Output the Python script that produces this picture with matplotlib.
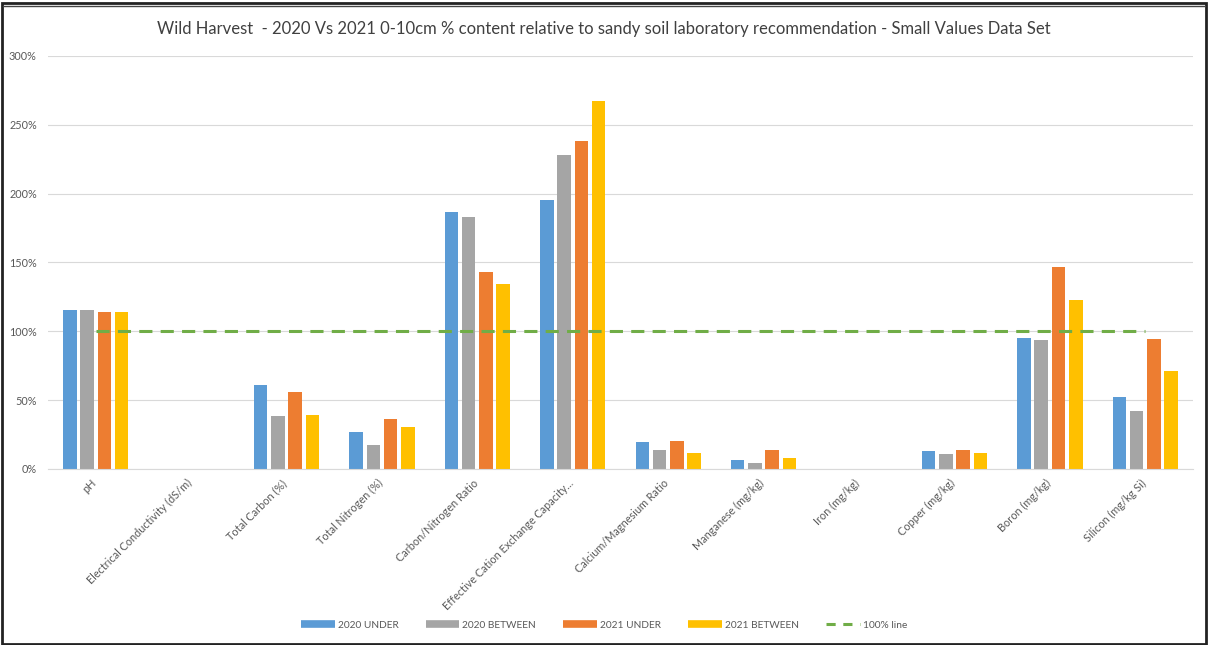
import numpy as np
import matplotlib
matplotlib.use("Agg")
import matplotlib.pyplot as plt
import matplotlib.transforms as mtransforms
from matplotlib.lines import Line2D
from matplotlib.ticker import FuncFormatter

plt.rcParams['font.family'] = ['Lato', 'DejaVu Sans']

categories = ["pH", "Electrical Conductivity (dS/m)", "Total Carbon (%)", "Total Nitrogen (%)",
              "Carbon/Nitrogen Ratio", "Effective Cation Exchange Capacity...",
              "Calcium/Magnesium Ratio", "Manganese (mg/kg)", "Iron (mg/kg)",
              "Copper (mg/kg)", "Boron (mg/kg)", "Silicon (mg/kg Si)"]

# percent of the laboratory recommendation
under_2020 = [115.3, 0, 61.2, 27.2, 186.4, 195.7, 19.4, 6.3, 0, 13.0, 95.0, 52.0]
between_2020 = [115.8, 0, 38.4, 17.3, 183.0, 228.0, 13.6, 4.1, 0, 10.9, 93.5, 42.0]
under_2021 = [114.1, 0, 56.1, 36.6, 143.0, 238.0, 20.1, 13.8, 0, 13.8, 146.5, 94.5]
between_2021 = [114.1, 0, 39.5, 30.6, 134.5, 267.0, 11.4, 8.0, 0, 11.4, 123.0, 71.0]
line_100 = [100] * len(categories)

series = [("2020 UNDER", under_2020, "#5B9BD5"),
          ("2020 BETWEEN", between_2020, "#A5A5A5"),
          ("2021 UNDER", under_2021, "#ED7D31"),
          ("2021 BETWEEN", between_2021, "#FFC000")]

fig = plt.figure(figsize=(12.08, 6.45), dpi=100)
ax = fig.add_axes([0.0397, 0.2729, 0.9479, 0.6403])

x = np.arange(len(categories))
pitch = 0.181
width = 0.142
for i, (name, vals, col) in enumerate(series):
    ax.bar(x + (i - 1.5) * pitch, vals, width, color=col, zorder=2)

ax.plot(x, line_100, color="#70AD47", lw=2.2, dashes=(4.3, 2.7), zorder=3)

ax.set_xlim(-0.5, len(categories) - 0.5)
ax.set_ylim(0, 300)
ax.set_yticks(np.arange(0, 301, 50))
ax.yaxis.set_major_formatter(FuncFormatter(lambda v, p: "%d%%" % v))
ax.grid(axis="y", color="#D9D9D9", lw=0.8, zorder=0)
for s in ["left", "right", "top"]:
    ax.spines[s].set_visible(False)
ax.spines["bottom"].set_color("#D9D9D9")
ax.tick_params(axis="both", length=0, colors="#595959", labelsize=7.8)
ax.tick_params(axis="y", pad=8)
ax.set_xticks(x)
ax.set_xticklabels(categories, rotation=45, ha="right", rotation_mode="anchor")
ax.tick_params(axis="x", pad=6)
shift = mtransforms.ScaledTranslation(-5 / 100, 0, fig.dpi_scale_trans)
for lab in ax.get_xticklabels():
    lab.set_transform(lab.get_transform() + shift)

fig.text(0.5, 0.955, "Wild Harvest  - 2020 Vs 2021 0-10cm % content relative to sandy soil "
         "laboratory recommendation - Small Values Data Set",
         ha="center", va="center", fontsize=12, color="#404040")

handles = [Line2D([0], [0], color=c, lw=5.5, solid_capstyle="butt") for _, _, c in series]
handles.append(Line2D([0], [0], color="#70AD47", lw=2.2, dashes=(3.0, 2.5)))
labels = [n for n, _, _ in series] + ["100% line"]
fig.legend(handles, labels, loc="center", bbox_to_anchor=(0.5, 0.031), ncol=5,
           frameon=False, fontsize=7.3, labelcolor="#595959", handlelength=3.3,
           columnspacing=2.7, handletextpad=0.3)

# chart frame
fig.add_artist(plt.Rectangle((1.5 / 1208, 1.5 / 645), 1 - 4 / 1208, 1 - 4 / 645,
                             transform=fig.transFigure, fill=False, ec="#222222", lw=2))
fig.add_artist(Line2D([3 / 1208, 1 - 3 / 1208], [1 - 6 / 645, 1 - 6 / 645],
                      transform=fig.transFigure, color="#444444", lw=1))

fig.savefig("out.png", dpi=100)
